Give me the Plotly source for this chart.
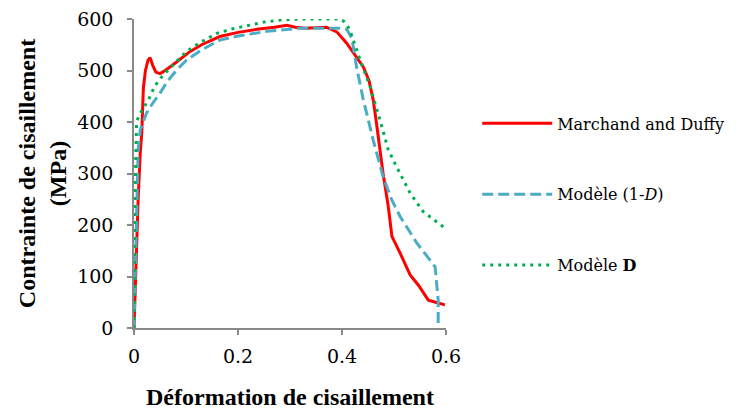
import plotly.graph_objects as go

# Marchand and Duffy (experimental)
md_x = [0, 0.004, 0.008, 0.012, 0.015, 0.018, 0.022, 0.027, 0.031, 0.036, 0.042, 0.05, 0.06, 0.08,
        0.108, 0.13, 0.165, 0.2, 0.236, 0.27, 0.294, 0.31, 0.33, 0.37, 0.39, 0.409, 0.425, 0.441,
        0.452, 0.46, 0.466, 0.473, 0.479, 0.489, 0.496, 0.512, 0.531, 0.547, 0.556, 0.566, 0.58, 0.598]
md_y = [0, 150, 250, 340, 380, 466, 500, 520, 525, 510, 497, 494, 500, 515,
        537, 550, 566, 574, 580, 584, 588, 584, 582, 584, 575, 553, 530, 507,
        480, 443, 400, 346, 300, 236, 178, 145, 103, 83, 70, 54, 50, 45]

# Modèle (1-D)
m1_x = [0, 0.002, 0.005, 0.008, 0.012, 0.015, 0.024, 0.035, 0.05, 0.065, 0.082, 0.101, 0.13, 0.165,
        0.2, 0.255, 0.319, 0.36, 0.395, 0.409, 0.419, 0.428, 0.441, 0.46, 0.479, 0.495, 0.512,
        0.544, 0.579, 0.585, 0.585]
m1_y = [0, 100, 248, 346, 385, 394, 417, 435, 456, 480, 501, 520, 540, 559,
        567, 576, 582, 582, 582, 580, 563, 507, 443, 365, 294, 250, 216,
        165, 119, 54, 0]

# Modèle D
md2_x = [0, 0.001, 0.002, 0.005, 0.012, 0.028, 0.04, 0.056, 0.082, 0.101, 0.13, 0.159, 0.19, 0.223,
         0.25, 0.281, 0.32, 0.36, 0.396, 0.406, 0.415, 0.435, 0.454, 0.473, 0.489, 0.505, 0.531,
         0.556, 0.598]
md2_y = [0, 120, 262, 401, 417, 443, 470, 491, 518, 537, 556, 572, 581, 588,
         594, 598, 600, 600, 600, 594, 579, 520, 469, 404, 346, 313, 262,
         226, 194]

x_ticks = [0, 0.2, 0.4, 0.6]
x_tick_labels = ["0", "0.2", "0.4", "0.6"]
y_ticks = [0, 100, 200, 300, 400, 500, 600]

title_family = "Liberation Serif"
text_family = "DejaVu Serif"

fig = go.Figure()
fig.add_trace(go.Scatter(x=md_x, y=md_y, mode="lines", name="Marchand and Duffy",
                         legendgroup="a",
                         line=dict(color="#FF0000", width=3), cliponaxis=False))
fig.add_trace(go.Scatter(x=m1_x, y=m1_y, mode="lines", name="Modèle (1-<i>D</i>)",
                         legendgroup="b",
                         line=dict(color="#4BACC6", width=3, dash="11px,5px"), cliponaxis=False))
fig.add_trace(go.Scatter(x=md2_x, y=md2_y, mode="lines", name="Modèle <b>D</b>",
                         legendgroup="c",
                         line=dict(color="#00B050", width=3, dash="3px,5px"), cliponaxis=False))

axis_common = dict(showgrid=False, zeroline=False, showline=True, linecolor="#898989",
                   linewidth=1.5, ticks="outside", tickcolor="#898989", ticklen=5, tickwidth=1.5,
                   automargin=False, ticklabeloverflow="allow",
                   tickfont=dict(family=text_family, size=19, color="black"))

fig.update_layout(
    width=732, height=404,
    margin=dict(l=126, r=294, t=11, b=84, autoexpand=False),
    paper_bgcolor="white", plot_bgcolor="white",
    font=dict(family=text_family, color="black"),
    xaxis=dict(range=[0, 0.6], tickvals=x_ticks, ticktext=x_tick_labels,
               ticklabelstandoff=5,
               title=dict(text="<b>Déformation de cisaillement</b>", standoff=23,
                          font=dict(family=title_family, size=24, color="black")),
               **axis_common),
    yaxis=dict(range=[0, 600], tickvals=y_ticks, ticklabelstandoff=10,
               title=dict(text="<b>Contrainte de cisaillement<br>(MPa)</b>", standoff=4,
                          font=dict(family=title_family, size=24, color="black")),
               **axis_common),
    legend=dict(x=1.10, y=0.717, xanchor="left", yanchor="top",
                font=dict(family=text_family, size=16, color="black"),
                tracegroupgap=47, itemwidth=70, bgcolor="rgba(0,0,0,0)"),
    showlegend=True,
)

fig.write_html("out.html")
